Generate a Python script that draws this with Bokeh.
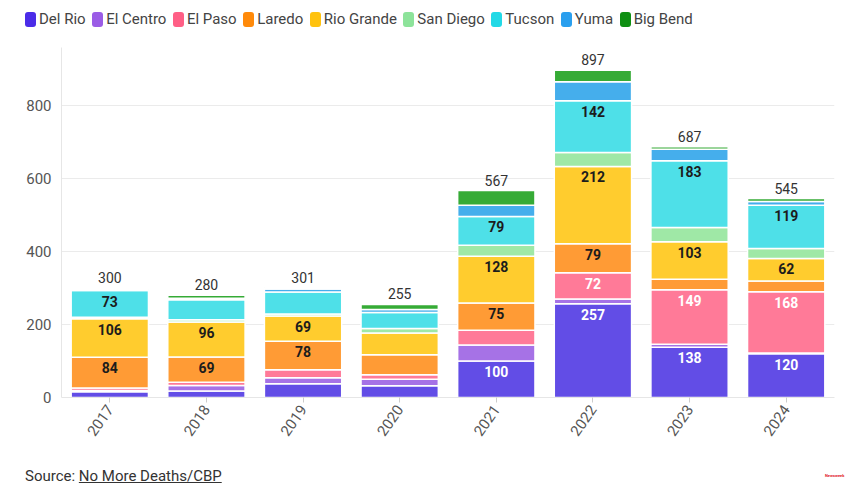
import math
from bokeh.plotting import figure
from bokeh.models import (ColumnDataSource, FactorRange, Range1d, FixedTicker, Div)
from bokeh.layouts import column
from bokeh.embed import file_html
from bokeh.resources import INLINE
from bokeh.core.properties import value

years = ["2017", "2018", "2019", "2020", "2021", "2022", "2023", "2024"]
sectors = ["Del Rio", "El Centro", "El Paso", "Laredo", "Rio Grande",
           "San Diego", "Tucson", "Yuma", "Big Bend"]

del_rio    = [16, 18, 38, 32, 100, 257, 138, 120]
el_centro  = [3, 15, 16, 18, 44, 13, 8, 2]
el_paso    = [7, 9, 22, 12, 40, 72, 149, 168]
laredo     = [84, 69, 78, 55, 75, 79, 29, 29]
rio_grande = [106, 96, 69, 60, 128, 212, 103, 62]
san_diego  = [4, 6, 6, 12, 30, 38, 39, 27]
tucson     = [73, 55, 60, 44, 79, 142, 183, 119]
yuma       = [3, 4, 8, 8, 31, 52, 31, 10]
big_bend   = [4, 8, 4, 14, 40, 32, 7, 8]
totals     = [300, 280, 301, 255, 567, 897, 687, 545]

y_ticks = [0, 200, 400, 600, 800]

series = [del_rio, el_centro, el_paso, laredo, rio_grande, san_diego, tucson, yuma, big_bend]
bar_colors = ["#624DE6", "#A672E6", "#FF7A98", "#FF9B35", "#FFCC2E",
              "#9FE8A6", "#4EE0E8", "#45AEEC", "#36AB36"]
legend_colors = ["#4B2CE8", "#9B5CE6", "#FF5F86", "#FF8A0A", "#FFC20E",
                 "#8DE39A", "#22D9E6", "#2A9FEE", "#0E8F12"]
label_colors = ["white", "#1c1c1c", "white", "#1c1c1c", "#1c1c1c",
                "#1c1c1c", "#1c1c1c", "#1c1c1c", "#1c1c1c"]
LABEL_MIN = 62

# ---------- legend (HTML) ----------
legend_items = "".join(
    '<span style="display:inline-flex;align-items:center;white-space:nowrap">'
    f'<span style="display:inline-block;width:11px;height:15px;border-radius:3px;'
    f'background:{c};margin-right:3px"></span>{name}</span>'
    for name, c in zip(sectors, legend_colors))
legend_div = Div(text=('<div style="display:flex;align-items:center;gap:6.5px;height:39px;'
                       'padding-left:25px;font-family:Roboto;font-size:15px;color:#444444">'
                       + legend_items + '</div>'),
                 width=846, height=38, margin=0)

# ---------- main chart ----------
data = {"year": years}
for name, vals in zip(sectors, series):
    data[name] = vals
source = ColumnDataSource(data)

p = figure(x_range=FactorRange(*years, range_padding=0), y_range=Range1d(0, 959),
           width=838, height=406, output_backend="svg", toolbar_location=None,
           min_border_left=61, min_border_right=4, min_border_top=9, min_border_bottom=47)
p.outline_line_color = None
p.background_fill_color = "white"

p.vbar_stack(sectors, x="year", width=0.8, color=bar_colors, source=source,
             line_color="white", line_width=1.5)

lx, ly, lt, lc = [], [], [], []
for i, yr in enumerate(years):
    cum = 0
    for s, vals in enumerate(series):
        cum += vals[i]
        if vals[i] >= LABEL_MIN:
            lx.append(yr); ly.append(cum); lt.append(str(vals[i])); lc.append(label_colors[s])
lab_src = ColumnDataSource(dict(x=lx, y=ly, t=lt, c=lc))
p.text(x="x", y="y", text="t", source=lab_src, text_align="center", text_baseline="top",
       y_offset=5, text_color="c", text_font=value("Roboto"), text_font_style="bold",
       text_font_size="14px")

tot_src = ColumnDataSource(dict(x=years, y=totals, t=[str(t) for t in totals]))
p.text(x="x", y="y", text="t", source=tot_src, text_align="center", text_baseline="bottom",
       y_offset=-5, text_color="#333333", text_font=value("Roboto"), text_font_size="14px")

p.yaxis.ticker = FixedTicker(ticks=y_ticks)
p.yaxis.major_tick_line_color = None
p.yaxis.major_tick_out = 0
p.yaxis.minor_tick_line_color = None
p.yaxis.axis_line_color = "#e6e6e6"
p.yaxis.major_label_text_font = "Roboto"
p.yaxis.major_label_text_font_size = "15px"
p.yaxis.major_label_text_color = "#555555"
p.yaxis.major_label_standoff = 10

p.xaxis.axis_line_color = "#e6e6e6"
p.xaxis.major_tick_line_color = "#cccccc"
p.xaxis.major_tick_out = 5
p.xaxis.major_tick_in = 0
p.xaxis.major_label_orientation = math.radians(55)
p.xaxis.major_label_text_font = "Roboto"
p.xaxis.major_label_text_font_size = "15px"
p.xaxis.major_label_text_color = "#555555"
p.xaxis.major_label_standoff = 4

p.xgrid.grid_line_color = None
p.ygrid.grid_line_color = "#ebebeb"

source_div = Div(text=('<div style="position:relative;width:846px;height:45px;font-family:Roboto;'
                       'font-size:15px;color:#333333">'
                       '<span style="position:absolute;left:25px;top:22px;white-space:nowrap">'
                       'Source: <u>No More Deaths/CBP</u></span>'
                       '<span style="position:absolute;left:825px;top:29px;color:#e0141e;'
                       'font-size:4px;font-weight:bold;white-space:nowrap">Newsweek</span></div>'),
                 width=846, height=45, margin=0)

layout = column(legend_div, p, source_div)
open("out.html", "w").write(file_html(layout, INLINE))
